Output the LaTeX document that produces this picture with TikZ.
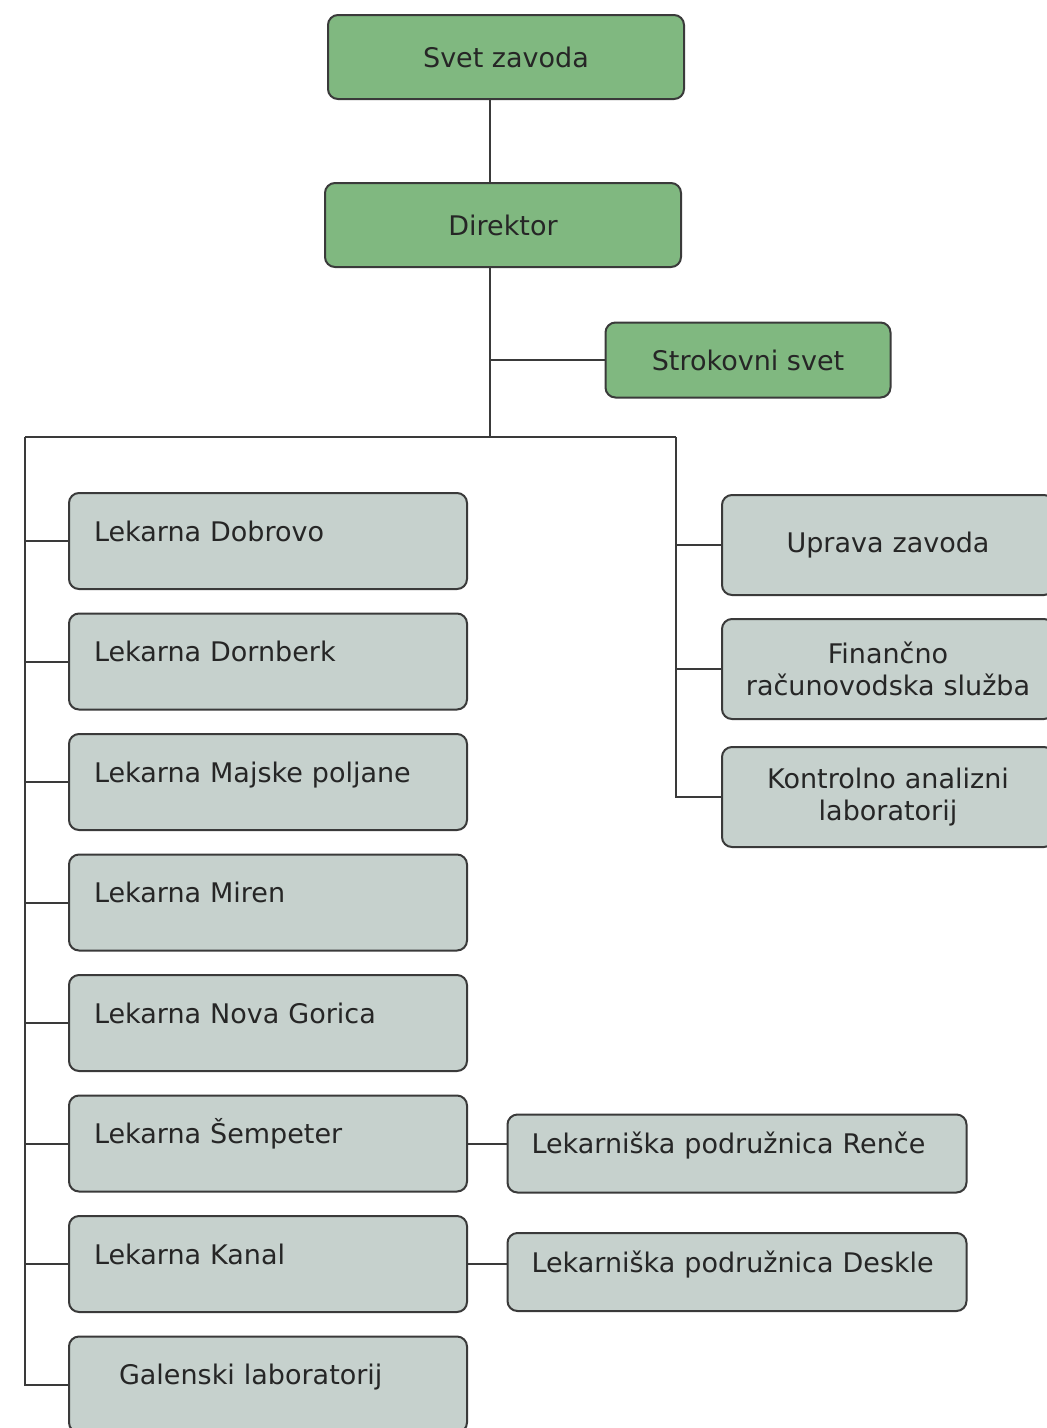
\documentclass[tikz,border=0pt]{standalone}
\usepackage{fontspec}
\setmainfont{DejaVu Sans}
\usetikzlibrary{positioning}

\definecolor{boardgreen}{HTML}{80B880}
\definecolor{unitgray}{HTML}{C6D1CD}
\definecolor{edgegray}{HTML}{3A3A3A}

\tikzset{
  box/.style={draw=edgegray, line width=2pt, rounded corners=10pt,
    text=black!85, font=\fontsize{27}{32}\selectfont},
  board/.style={box, fill=boardgreen, minimum width=356pt, minimum height=84pt},
  unit/.style={box, fill=unitgray, text width=348pt, inner xsep=25pt,
    minimum height=96pt, align=left, text height=20pt, text depth=20pt},
  staff/.style={box, fill=unitgray, text width=310pt, inner xsep=11pt,
    minimum height=100pt, align=center},
  branch/.style={box, fill=unitgray, text width=411pt, inner xsep=24pt,
    minimum height=78pt, align=left, text height=20pt, text depth=20pt},
  link/.style={draw=edgegray, line width=2pt}
}

\begin{document}
\begin{tikzpicture}[x=1pt,y=-1pt,node distance=120.5pt,on grid]
   \useasboundingbox[fill=white] (0,0) rectangle (1047,1428);
   % management
   \node[board] (svet)      at (506,57)  {Svet zavoda};
   \node[board] (direktor)  at (503,225) {Direktor};
   \node[board, minimum width=285pt, minimum height=75pt] (strokovni) at (748,360) {Strokovni svet};
   % pharmacies
   \node[unit] (dobrovo)   at (268,541) {Lekarna Dobrovo};
   \node[unit] (dornberk)  [below=of dobrovo]  {Lekarna Dornberk};
   \node[unit] (majske)    [below=of dornberk] {Lekarna Majske poljane};
   \node[unit] (miren)     [below=of majske]   {Lekarna Miren};
   \node[unit] (novagorica)[below=of miren]    {Lekarna Nova Gorica};
   \node[unit] (sempeter)  [below=of novagorica] {Lekarna Šempeter};
   \node[unit] (kanal)     [below=of sempeter] {Lekarna Kanal};
   \node[unit] (galenski)  [below=of kanal]    {\hspace*{25pt}Galenski laboratorij};
   % services
   \node[staff] (uprava)    at (888,545) {Uprava zavoda};
   \node[staff] (finance)   [below=124pt of uprava]  {Finančno\\računovodska služba};
   \node[staff] (kontrolno) [below=128pt of finance] {Kontrolno analizni\\laboratorij};
   % branches
   \node[branch] (renche) [right=469pt of sempeter, yshift=-10pt] {Lekarniška podružnica Renče};
   \node[branch] (deskle) [right=469pt of kanal, yshift=-8pt]     {Lekarniška podružnica Deskle};

   \coordinate (stem)    at ([xshift=-13pt]direktor.north);
   \coordinate (trunk)   at (490,437);
   \coordinate (lcorner) at (25,437);
   \coordinate (rcorner) at (676,437);

   \draw[link] (svet.south -| stem) -- (stem);
   \draw[link] (direktor.south -| trunk) -- (trunk);
   \draw[link] (trunk |- strokovni.west) -- (strokovni.west);
   \draw[link] (lcorner) -- (rcorner);
   \draw[link] (lcorner) |- (galenski.west);
   \foreach \n in {dobrovo,dornberk,majske,miren,novagorica,sempeter,kanal}
     \draw[link] (lcorner |- \n.west) -- (\n.west);
   \draw[link] (rcorner) |- (kontrolno.west);
   \foreach \n in {uprava,finance}
     \draw[link] (rcorner |- \n.west) -- (\n.west);
   \draw[link] (sempeter.east) -- (renche.west |- sempeter.east);
   \draw[link] (kanal.east) -- (deskle.west |- kanal.east);
\end{tikzpicture}
\end{document}
